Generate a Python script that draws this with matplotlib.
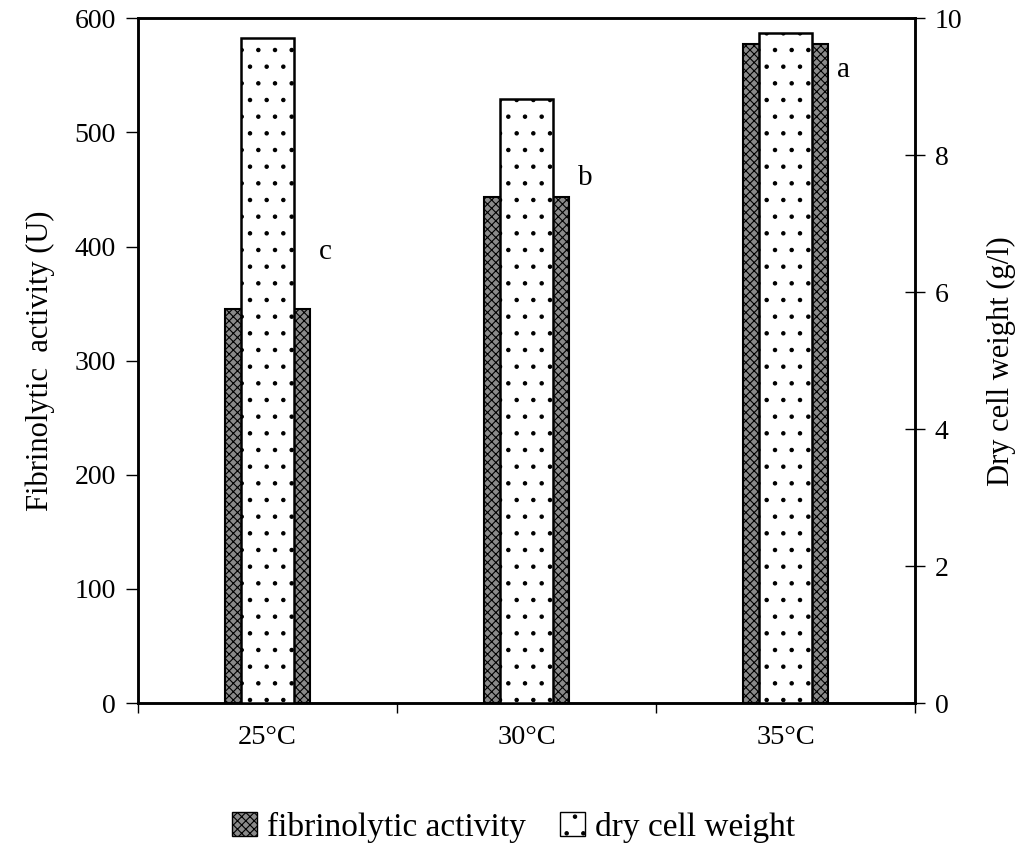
import matplotlib
matplotlib.use("Agg")
import matplotlib.pyplot as plt
from matplotlib.patches import Patch
import numpy as np

categories = ["25°C", "30°C", "35°C"]
fibrinolytic = [345, 443, 577]
dry_weight = [9.71, 8.82, 9.78]
letters = ["c", "b", "a"]
letter_heights = [395, 460, 555]

plt.rcParams['font.family'] = ['Liberation Serif', 'DejaVu Serif']
plt.rcParams['hatch.linewidth'] = 0.8

fig = plt.figure(figsize=(10.27, 8.67), dpi=100)
ax = fig.add_axes([0.1344, 0.189, 0.7566, 0.790])
ax2 = ax.twinx()

x = np.arange(len(categories))
ax.bar(x, fibrinolytic, width=0.325, facecolor='#8a8a8a', edgecolor='black',
       hatch='xxxx', linewidth=1.5, zorder=2)
ax2.bar(x, dry_weight, width=0.205, facecolor='white', edgecolor='black',
        hatch='.', linewidth=1.8, zorder=3)

for xi, v, l in zip(x, letter_heights, letters):
    ax.text(xi + 0.2, v, l, fontsize=21, ha='left', va='center')

ax.set_xlim(-0.5, 2.5)
ax.set_ylim(0, 600)
ax2.set_ylim(0, 10)
ax.set_yticks(range(0, 601, 100))
ax2.set_yticks(range(0, 11, 2))

ax.set_xticks(x)
ax.set_xticklabels(categories, fontsize=20.5)
ax.tick_params(axis='x', length=0, pad=16)
ax.set_xticks([-0.5, 0.5, 1.5, 2.5], minor=True)
ax.tick_params(axis='x', which='minor', length=7, direction='out', width=1)

ax.tick_params(axis='y', labelsize=20, length=9, width=1, direction='out', pad=7)
ax2.tick_params(axis='y', labelsize=20, length=14, width=1, direction='inout', pad=7)

ax.set_ylabel("Fibrinolytic  activity (U)", fontsize=22, labelpad=14)
ax2.set_ylabel("Dry cell weight (g/l)", fontsize=22, labelpad=18)

for a in (ax, ax2):
    for s in a.spines.values():
        s.set_linewidth(1.8)

handles = [Patch(facecolor='#8a8a8a', edgecolor='black', hatch='xxxx', label='fibrinolytic activity'),
           Patch(facecolor='white', edgecolor='black', hatch='.', label='dry cell weight')]
fig.legend(handles=handles, loc='center', bbox_to_anchor=(0.5, 0.046), ncol=2,
           frameon=False, fontsize=24, handlelength=0.75, handleheight=0.75,
           handletextpad=0.3, columnspacing=1.0)

fig.savefig("out.png", dpi=100)
